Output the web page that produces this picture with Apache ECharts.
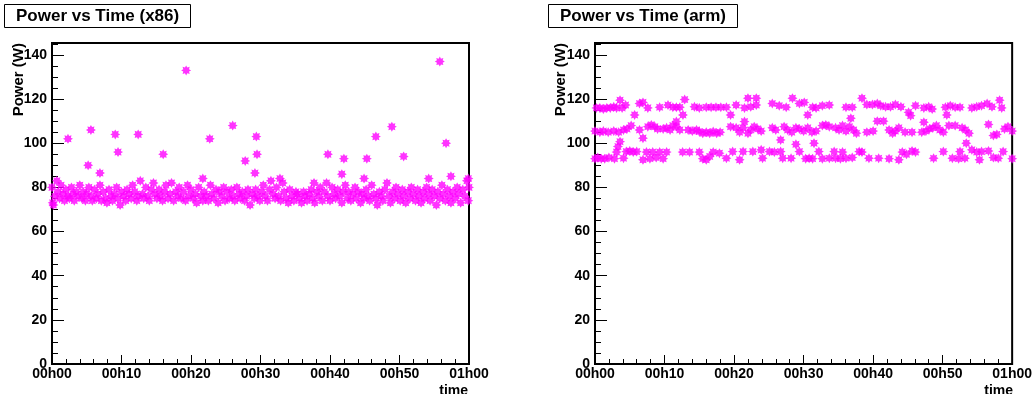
<!DOCTYPE html>
<html><head><meta charset="utf-8">
<script src="https://cdn.jsdelivr.net/npm/echarts@6/dist/echarts.min.js"></script>
<style>html,body{margin:0;padding:0;background:#fff}#c{width:1035px;height:394px}</style>
</head><body><div id="c"></div>
<script>
// ---- data: [minutes, watts] ----
const panelTitles = ['Power vs Time (x86)', 'Power vs Time (arm)'];
const yTitle = 'Power (W)';
const xTitle = 'time';
const x86Band = [[0.0,80],[0.1,73],[0.2,72],[0.4,76],[0.7,83],[0.9,78],[1.1,75],[1.3,81],[1.6,77],[1.8,74],[2.0,79],[2.3,76],[2.5,75],[2.8,80],[3.0,77],[3.2,74],[3.5,78],[3.8,76],[4.0,81],[4.3,75],[4.5,78],[4.8,74],[5.0,77],[5.3,80],[5.6,76],[5.8,74],[6.1,79],[6.4,75],[6.6,77],[6.9,81],[7.1,74],[7.4,78],[7.7,75],[7.9,73],[8.2,79],[8.5,76],[8.7,74],[9.0,77],[9.3,80],[9.5,75],[9.8,72],[10.0,78],[10.3,76],[10.6,74],[10.8,79],[11.1,77],[11.4,75],[11.6,81],[11.9,78],[12.2,74],[12.4,76],[12.7,83],[13.0,77],[13.2,75],[13.5,80],[13.8,76],[14.0,74],[14.3,79],[14.6,82],[14.8,77],[15.1,75],[15.4,79],[15.6,76],[15.9,74],[16.2,78],[16.4,81],[16.7,75],[17.0,77],[17.2,82],[17.5,74],[17.8,78],[18.1,76],[18.3,80],[18.6,75],[18.9,78],[19.2,74],[19.5,81],[19.7,76],[20.0,79],[20.3,75],[20.6,77],[20.8,73],[21.1,80],[21.4,76],[21.7,74],[21.9,78],[22.2,76],[22.5,74],[22.8,81],[23.0,77],[23.3,75],[23.6,79],[23.9,73],[24.1,78],[24.4,76],[24.7,80],[24.9,74],[25.2,78],[25.5,75],[25.8,79],[26.0,76],[26.3,74],[26.6,80],[26.9,77],[27.1,75],[27.4,78],[27.7,74],[28.0,76],[28.2,79],[28.5,72],[28.8,77],[29.1,75],[29.3,79],[29.6,76],[29.9,74],[30.2,78],[30.4,81],[30.7,76],[31.0,74],[31.3,79],[31.5,83],[31.8,77],[32.1,75],[32.3,80],[32.6,76],[32.9,74],[33.2,82],[33.4,78],[33.7,75],[34.0,73],[34.2,79],[34.5,76],[34.8,74],[35.1,78],[35.3,77],[35.6,75],[35.9,73],[36.2,78],[36.4,76],[36.7,74],[37.0,77],[37.3,79],[37.5,75],[37.8,73],[38.1,78],[38.4,76],[38.6,80],[38.9,74],[39.2,78],[39.5,82],[39.7,76],[40.0,74],[40.3,80],[40.6,77],[40.8,75],[41.1,79],[41.4,76],[41.7,73],[41.9,78],[42.2,81],[42.5,75],[42.7,78],[43.0,74],[43.3,77],[43.6,80],[43.8,75],[44.1,78],[44.4,73],[44.6,77],[44.9,75],[45.2,79],[45.5,76],[45.7,74],[46.0,81],[46.3,77],[46.6,75],[46.8,72],[47.1,78],[47.4,76],[47.6,74],[47.9,79],[48.2,82],[48.5,76],[48.7,73],[49.0,78],[49.3,75],[49.5,80],[49.8,77],[50.1,74],[50.4,79],[50.6,76],[50.9,73],[51.2,78],[51.5,75],[51.7,80],[52.0,77],[52.3,74],[52.6,79],[52.8,76],[53.1,73],[53.4,78],[53.6,75],[53.9,80],[54.2,77],[54.4,74],[54.7,79],[55.0,76],[55.3,72],[55.5,78],[55.8,75],[56.1,81],[56.3,77],[56.6,74],[56.9,79],[57.2,76],[57.4,73],[57.7,78],[58.0,75],[58.3,80],[58.5,77],[58.8,73],[59.1,79],[59.4,76],[59.7,83],[59.9,74],[60.0,80]];
const x86Spikes = [[2.3,102],[5.2,90],[5.6,106],[6.9,86.5],[9.1,104],[9.5,96],[12.4,104],[16.0,95],[19.3,133],[21.7,84],[22.7,102],[26.0,108],[27.8,92],[29.2,86.5],[29.4,103],[29.5,95],[32.8,84],[37.7,82],[39.7,95],[41.7,86],[42.0,93],[44.9,84],[45.3,93],[46.6,103],[48.9,107.5],[50.6,94],[54.2,84],[55.8,137],[56.7,100],[57.4,85],[59.9,84]];
const armTop = [[0.2,116],[0.7,116],[1.2,115.5],[1.7,116],[2.2,116],[2.7,116.5],[3.1,116],[3.6,119.5],[3.9,116],[4.4,117.3],[5.7,112.8],[6.4,118],[6.9,118.5],[7.6,116],[9.3,116.3],[10.5,117.3],[11.2,116.3],[11.7,116.3],[12.2,116.3],[12.65,112.8],[12.9,119.8],[14.3,116.5],[15.0,116],[16.0,116.3],[16.7,116.3],[17.4,116.3],[18.1,116.3],[18.9,116.3],[19.5,112.8],[20.3,117.3],[21.5,116],[22.0,120.4],[22.4,116.5],[23.2,120.4],[23.2,117.3],[25.5,118],[26.5,117],[27.5,116.3],[28.4,120.4],[29.4,118],[30.1,118.5],[30.6,112.8],[31.3,116.3],[31.8,116],[32.7,117],[33.7,117.3],[36.1,116.3],[36.8,111.3],[37.0,116.3],[38.4,120.4],[39.1,117.5],[39.9,117.5],[40.6,118],[41.1,117],[41.8,116.5],[42.5,116.5],[43.2,117.5],[44.0,116.5],[45.1,114],[45.4,112.5],[46.1,117],[47.3,116],[48.0,116.5],[48.5,115.5],[50.4,116.3],[50.6,112.8],[51.1,117],[51.8,116.3],[52.5,116.3],[54.2,116],[54.9,116.5],[55.6,117],[56.4,118],[57.1,116.5],[58.2,119.5],[58.5,116]];
const armMid = [[0.0,105.5],[0.7,105],[1.2,105.5],[1.9,105],[2.7,105.5],[3.4,105],[4.1,106],[4.6,106.5],[5.2,108],[6.4,106],[6.9,102.3],[7.6,107.5],[8.1,108.3],[8.6,107.5],[9.0,106.5],[9.8,106.5],[10.3,107],[10.8,106],[11.2,108],[11.7,109.8],[11.7,107.5],[12.2,106],[13.4,106],[14.0,105.5],[14.6,106],[15.0,105.3],[15.5,104.5],[16.0,105],[16.5,104.5],[17.0,105.3],[17.5,104.5],[18.0,105],[19.5,107.5],[20.3,107],[20.8,105],[21.3,107],[21.5,109.8],[22.0,104.5],[22.4,106],[22.9,107.5],[23.4,106.5],[23.9,105.5],[25.5,107],[26.0,106],[26.7,101.5],[27.2,107.5],[27.7,106],[28.3,105],[28.9,107],[29.4,106.5],[30.0,105.5],[30.6,107],[31.2,105],[31.8,105.5],[32.7,108],[33.2,108.3],[33.7,107.5],[34.6,107],[35.1,106],[35.6,108],[36.1,105.5],[36.6,107.5],[37.2,106],[37.6,104.5],[39.1,105],[40.0,105.5],[40.6,110],[41.5,110],[42.3,106],[42.8,104.5],[43.2,105.5],[43.7,107],[44.6,105],[45.6,105],[47.0,105],[47.3,109.5],[47.6,105.5],[48.1,106.5],[48.6,107],[49.1,108],[49.6,106],[50.1,105],[50.9,108],[51.8,108],[52.8,107],[53.3,106],[53.8,104.5],[56.6,108.5],[57.3,103.5],[57.8,104],[58.9,106.5],[59.4,107.5],[60.0,105.5]];
const armLow = [[0.0,93],[0.4,93.5],[0.9,93],[1.4,93],[2.0,93.5],[2.8,93],[3.1,96],[3.3,98.5],[3.6,100.7],[4.1,93.2],[4.5,96.2],[5.0,96.5],[5.5,96],[6.0,96.2],[6.9,92.5],[7.4,96],[7.9,93],[8.3,96],[8.8,93.5],[9.3,96],[9.8,93],[10.3,96],[12.6,96],[13.6,96],[15.0,96],[15.5,93],[16.0,92.5],[16.5,94],[17.0,96],[17.9,95.5],[18.9,93.2],[19.8,96.2],[20.8,92.5],[21.3,96.2],[22.7,96.2],[23.9,97],[24.1,93.2],[25.1,96.2],[25.8,96],[26.7,96.2],[27.0,93.2],[28.2,93.2],[28.9,99.5],[29.4,96.2],[30.3,93],[30.8,93.2],[31.3,93],[31.5,100],[32.2,96.2],[32.7,93],[33.7,93.2],[34.4,96.2],[34.6,93.2],[35.3,93],[35.6,96],[36.1,93.2],[37.0,93.5],[38.0,96.2],[38.4,96],[39.4,93.2],[40.8,93.2],[42.3,93],[43.7,92.5],[44.2,96],[44.8,95],[45.6,96.5],[46.1,96],[48.7,93.2],[50.1,96.2],[51.4,93.2],[52.3,93],[52.5,96.2],[53.2,93.2],[53.4,100],[54.2,97],[54.9,96],[55.3,92.5],[55.6,96.2],[56.6,96.5],[57.3,93.5],[58.0,93.2],[58.7,96.2],[60.0,93]];

// ---- styling / layout ----
const FONT = '"Liberation Sans", Arial, Helvetica, sans-serif';
const grids = [{left:52, width:417}, {left:595, width:419}];
const TOP = 43, H = 321, YMAX = 145.4;

// 8-point asterisk marker (ROOT style 3), drawn with thick arms
let pts = [];
for (let k = 0; k < 16; k++) {
  const a = k * Math.PI / 8, r = (k % 2 === 0) ? 10 : 6.2;
  pts.push((r * Math.sin(a)).toFixed(2) + ',' + (-r * Math.cos(a)).toFixed(2));
}
const STAR = 'path://M' + pts.join('L') + 'Z';

function fmtTime(v) {
  const h = Math.floor(v / 60), m = Math.round(v % 60);
  return '0' + h + 'h' + (m < 10 ? '0' : '') + m;
}
const lbl = {color:'#000', fontSize:14, fontWeight:'bold', fontFamily:FONT};
const axLine = {show:true, onZero:false, lineStyle:{color:'#000', width:2}};

const option = {
  animation:false,
  backgroundColor:'#fff',
  title: panelTitles.map((t,i) => ({
    text:t, left: i === 0 ? 4 : 548, top:4,
    borderWidth:1, borderColor:'#000', backgroundColor:'#fff',
    padding:[3,12,3,12],
    textStyle:{fontSize:17, fontWeight:'bold', fontFamily:FONT, color:'#000', lineHeight:18}
  })),
  grid: grids.map(g => ({left:g.left, top:TOP, width:g.width, height:H, show:true,
    borderColor:'#000', borderWidth:2, backgroundColor:'transparent', containLabel:false})),
  xAxis: grids.map((g,i) => ({
    gridIndex:i, type:'value', min:0, max:60, interval:10,
    axisLine:axLine,
    axisTick:{show:true, inside:true, length:9, lineStyle:{color:'#000', width:1}},
    minorTick:{show:true, splitNumber:5, length:5, lineStyle:{color:'#000', width:1}},
    splitLine:{show:false}, minorSplitLine:{show:false},
    axisLabel:Object.assign({margin:3, formatter:fmtTime}, lbl)
  })),
  yAxis: [],
  graphic: [],
  series: []
};
grids.forEach((g,i) => {
  option.yAxis.push({gridIndex:i, position:'left', type:'value', min:0, max:YMAX, interval:5,
    axisLine:axLine,
    axisTick:{show:true, inside:true, length:6, lineStyle:{color:'#000', width:1}},
    axisLabel:{show:false}, splitLine:{show:false}});
  option.yAxis.push({gridIndex:i, position:'left', type:'value', min:0, max:YMAX, interval:20,
    axisLine:axLine,
    axisTick:{show:true, inside:true, length:12, lineStyle:{color:'#000', width:1}},
    axisLabel:Object.assign({margin:5, formatter:v => (v % 20 === 0 ? String(v) : '')}, lbl),
    splitLine:{show:false}});
  option.graphic.push({type:'text', x: i === 0 ? 18.5 : 561, y:TOP, rotation:Math.PI/2,
    style:{text:yTitle, font:'bold 15px ' + FONT, fill:'#000', align:'right', verticalAlign:'middle'}});
  option.graphic.push({type:'text', x:g.left + g.width - 1, y:384,
    style:{text:xTitle, font:'bold 14px ' + FONT, fill:'#000', align:'right', verticalAlign:'top'}});
});
const sets = [[x86Band, x86Spikes], [armTop, armMid, armLow]];
sets.forEach((list,i) => list.forEach(d => option.series.push({
  type:'scatter', xAxisIndex:i, yAxisIndex:i*2+1, data:d,
  symbol:STAR, symbolSize:10, itemStyle:{color:'#ff00ff'}, clip:false, silent:true
})));
const chart = echarts.init(document.getElementById('c'), null, {renderer:'canvas'});
chart.setOption(option);
</script>
</body></html>
